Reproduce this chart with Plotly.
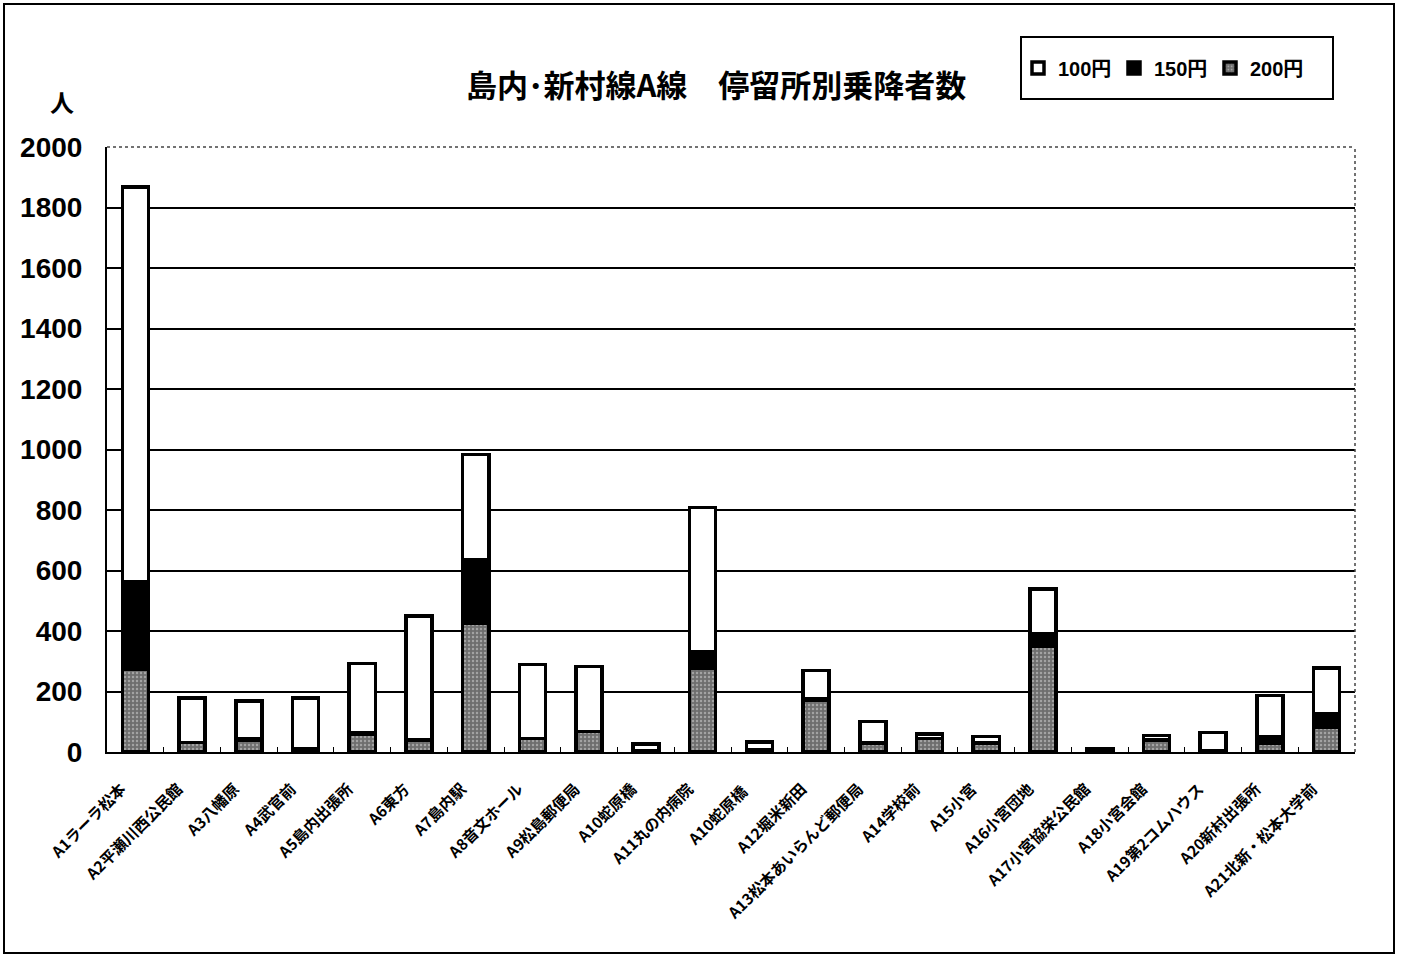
import plotly.graph_objects as go

categories = ["A1ラーラ松本", "A2平瀬川西公民館", "A3八幡原", "A4武官前", "A5島内出張所", "A6東方",
              "A7島内駅", "A8音文ホール", "A9松島郵便局", "A10蛇原橋", "A11丸の内病院", "A10蛇原橋 ",
              "A12堀米新田", "A13松本あいらんど郵便局", "A14学校前", "A15小宮", "A16小宮団地",
              "A17小宮協栄公民館", "A18小宮会館", "A19第2コムハウス", "A20新村出張所", "A21北新・松本大学前"]
yen200 = [275, 32, 40, 10, 60, 40, 427, 45, 68, 5, 277, 8, 170, 30, 45, 30, 350, 3, 40, 3, 28, 81]
yen150 = [287, 0, 5, 0, 5, 0, 208, 0, 0, 0, 56, 0, 5, 0, 0, 0, 40, 2, 0, 0, 22, 44]
yen100 = [1306, 146, 123, 168, 227, 409, 349, 245, 215, 22, 476, 25, 94, 71, 15, 22, 149, 6, 15, 61, 137, 152]
y_ticks = [0, 200, 400, 600, 800, 1000, 1200, 1400, 1600, 1800, 2000]

W, H = 1402, 957
L, R, T, B = 107, 1355, 147, 752

fig = go.Figure()
fig.add_trace(go.Bar(x=categories, y=yen200, name="200円",
                     marker=dict(color="#6e6e6e", line=dict(color="black", width=3.5),
                                 pattern=dict(shape=".", fgcolor="#d8d8d8", size=4, solidity=0.3))))
fig.add_trace(go.Bar(x=categories, y=yen150, name="150円",
                     marker=dict(color="black", line=dict(color="black", width=3.5))))
fig.add_trace(go.Bar(x=categories, y=yen100, name="100円",
                     marker=dict(color="white", line=dict(color="black", width=3.5))))

pw = R - L
ph = B - T

def px(x):
    return (x - L) / pw

def py(y):
    return (B - y) / ph

fig.update_layout(
    width=W, height=H,
    margin=dict(l=L, r=W - R, t=T, b=H - B, autoexpand=False),
    barmode="stack", bargap=0.54,
    paper_bgcolor="white", plot_bgcolor="white",
    font=dict(family="Noto Sans CJK JP, Liberation Sans, sans-serif", color="black"),
    showlegend=True,
    legend=dict(traceorder="reversed", orientation="h",
                x=px(1018), y=py(68), xanchor="left", yanchor="middle",
                borderwidth=0, bgcolor="rgba(0,0,0,0)",
                font=dict(size=20, family="Liberation Sans, Noto Sans CJK JP", weight="bold"),
                itemwidth=30, entrywidth=51, entrywidthmode="pixels"),
    xaxis=dict(tickangle=-45, tickfont=dict(size=15.5, family="Noto Sans CJK JP", weight="bold"),
               showline=True, linecolor="black", linewidth=2,
               ticks="inside", tickson="boundaries", ticklen=5, tickcolor="black",
               ticklabelstandoff=20, ticklabelshift=-14,
               showgrid=False, mirror=False),
    yaxis=dict(range=[0, 2000], tickvals=y_ticks, ticktext=[str(v) for v in y_ticks],
               tickfont=dict(size=28, family="Liberation Sans", weight="bold"),
               showline=True, linecolor="black", linewidth=2,
               showgrid=True, gridcolor="black", gridwidth=2,
               ticks="", ticklabelstandoff=17, zeroline=False),
    shapes=[
        dict(type="rect", xref="paper", yref="paper", x0=px(4), x1=px(1394), y0=py(953), y1=py(4),
             line=dict(color="black", width=2), layer="below"),
        dict(type="rect", xref="paper", yref="paper", x0=px(1021), x1=px(1333), y0=py(99), y1=py(37),
             line=dict(color="black", width=2), layer="below"),
        dict(type="line", xref="paper", yref="paper", x0=0, x1=1, y0=1, y1=1,
             line=dict(color="#444", width=1.5, dash="dot")),
        dict(type="line", xref="paper", yref="paper", x0=1, x1=1, y0=0, y1=1,
             line=dict(color="#444", width=1.5, dash="dot")),
    ],
    annotations=[
        dict(text="島内･新村線A線　停留所別乗降者数", xref="paper", yref="paper",
             x=px(716), y=py(83), xanchor="center", yanchor="middle", showarrow=False,
             font=dict(size=31, family="Noto Sans CJK JP", weight="bold")),
        dict(text="人", xref="paper", yref="paper", x=px(62), y=py(101),
             xanchor="center", yanchor="middle", showarrow=False,
             font=dict(size=24, family="Noto Sans CJK JP", weight="bold")),
    ],
)

fig.write_html("out.html", config={"displayModeBar": False},
               post_script="document.body.style.margin='0';document.body.style.padding='0';")
